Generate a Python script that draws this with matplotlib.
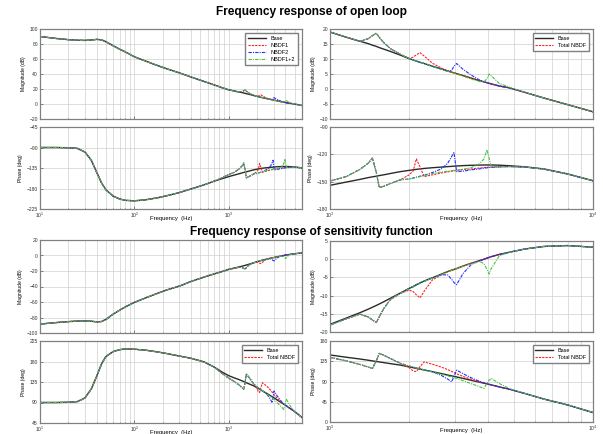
import numpy as np
import matplotlib.pyplot as plt
from matplotlib.ticker import NullFormatter

plt.rcParams['font.family'] = ['Liberation Sans', 'DejaVu Sans']

# frequency grid (Hz): shared low part, detailed high part
f_low = [10, 15, 20, 25, 30, 35, 40, 45, 50, 60, 70, 80, 100, 130, 170, 220, 300, 400, 550, 700]
f_high = [850, 1000, 1150, 1300, 1400, 1450, 1500, 1540, 1600, 1700, 1850, 2000, 2070, 2130,
          2200, 2280, 2450, 2650, 2800, 2900, 2960, 3030, 3200, 3450, 3700, 3850, 3950, 4030,
          4100, 4400, 4800, 5500, 6500, 8000, 10000]

# open loop magnitude (dB)
ol_mag_low = [90, 87.3, 85.8, 85, 84.8, 85.3, 86.2, 85.5, 83, 77.5, 73, 69.5, 63, 57.5, 52, 47,
              41.5, 36, 30, 25.5]
ol_mag_base = [21.8, 19.0, 17.3, 15.9, 15.1, 14.6, 14.2, 13.8, 13.3, 12.5, 11.3, 10.1, 9.7, 9.3,
               8.9, 8.5, 7.6, 6.7, 6.0, 5.6, 5.4, 5.1, 4.5, 3.6, 2.8, 2.4, 2.1, 1.9, 1.7, 1.0,
               0.4, -1.1, -3.0, -5.2, -7.6]
ol_mag_common = [21.8, 19.0, 17.3, 15.9, 16.8, 17.8, 18.6, 17.2, 15.5, 13.4, 11.6]
ol_mag_red = [10.2, 10.6, 11.4, 12.1, 11.0, 8.6, 7.0, 6.1, 5.6, 5.4, 5.1, 4.5, 3.6, 2.8, 2.4,
              2.1, 1.9, 1.7, 1.0, 0.4, -1.1, -3.0, -5.2, -7.6]
ol_mag_blue = [10.1, 9.7, 9.3, 8.9, 8.5, 7.5, 6.6, 5.9, 6.2, 7.6, 8.5, 6.6, 4.6, 3.0, 2.4,
               2.1, 1.9, 1.7, 1.0, 0.4, -1.1, -3.0, -5.2, -7.6]
ol_mag_green = [10.1, 9.7, 9.3, 8.9, 8.5, 7.5, 6.6, 5.9, 5.5, 5.3, 5.0, 4.3, 3.3, 2.5, 2.4,
                3.4, 5.0, 4.4, 1.9, 0.6, -1.1, -3.0, -5.2, -7.6]

# open loop phase (deg)
ol_ph_low = [-90, -90, -90.5, -92, -100, -118, -145, -168, -183, -197, -203, -206, -207, -205,
             -201, -196, -189, -181, -172, -164]
ol_ph_base = [-158.5, -154, -150.5, -147.5, -145.5, -144.7, -144, -143.3, -142.5, -141, -139,
              -137.6, -137, -136.5, -136, -135.5, -134.7, -134, -133.5, -133.2, -133, -132.8,
              -132.4, -132, -131.8, -131.7, -131.7, -131.7, -131.7, -131.9, -132.5, -133.7,
              -136, -141.5, -149]
ol_ph_common = [-156.5, -149.3, -144.5, -136.5, -129.5, -124, -140, -156.5, -155, -152, -148]
ol_ph_red = [-142.5, -138.5, -125, -134, -144.5, -142.5, -140.5, -139.3, -138.6, -138.2,
             -137.6, -136.8, -136, -135, -134.5, -134.2, -134, -134, -133.7, -133.5, -134,
             -136.2, -141.6, -149]
ol_ph_blue = [-147, -146, -145, -144, -143, -140, -136, -130, -122.5, -118, -139, -138.5,
              -137, -136, -135.2, -134.8, -134.5, -134.3, -133.8, -133.4, -134, -136.2,
              -141.6, -149]
ol_ph_green = [-147.3, -146.3, -145.5, -144.5, -143.5, -141, -139.5, -138.5, -138, -137.7,
               -137.3, -136.5, -134.5, -130.5, -125, -115, -124.5, -133.5, -133.6, -133.4,
               -134, -136.2, -141.6, -149]

# sensitivity magnitude (dB)
s_mag_low = [-88.5, -86.5, -85.3, -84.6, -84.4, -84.8, -85.6, -85.2, -82.5, -75.5, -70.5,
             -66.5, -60.5, -55, -49.5, -44.5, -39.5, -33.5, -27.8, -23.8]
s_mag_base = [-20.7, -17.9, -16.2, -14.7, -13.7, -13.2, -12.7, -12.3, -11.7, -10.7, -9.3, -8.0,
              -7.5, -7.0, -6.5, -6.0, -5.1, -4.1, -3.4, -3.0, -2.8, -2.55, -1.9, -1.1, -0.4,
              0.0, 0.3, 0.5, 0.7, 1.3, 1.9, 2.8, 3.5, 3.75, 3.3]
s_mag_common = [-20.9, -18.1, -16.4, -15.1, -15.9, -16.7, -17.4, -15.8, -13.6, -11.0, -9.4]
s_mag_red = [-8.5, -8.9, -9.8, -10.6, -8.8, -5.7, -4.3, -3.5, -3.05, -2.85, -2.6, -1.9, -1.1,
             -0.4, 0.0, 0.3, 0.5, 0.7, 1.3, 1.9, 2.8, 3.5, 3.75, 3.3]
s_mag_blue = [-8.1, -7.6, -7.1, -6.6, -6.1, -5.2, -4.3, -4.3, -5.5, -6.4, -7.0, -4.0, -1.4,
              -0.5, 0.0, 0.3, 0.5, 0.7, 1.3, 1.9, 2.8, 3.5, 3.75, 3.3]
s_mag_green = [-8.1, -7.6, -7.1, -6.6, -6.1, -5.2, -4.2, -3.5, -3.1, -2.9, -2.65, -2.0, -1.2,
               -0.6, -1.2, -2.8, -4.1, -2.6, 0.9, 1.9, 2.8, 3.5, 3.75, 3.3]

# sensitivity phase (deg)
s_ph_low = [90, 90, 90.5, 92, 100, 120, 148, 175, 191, 202, 206, 207.5, 207, 205, 201.5, 197.5,
            192, 187, 179, 168]
s_ph_base = [157, 149, 144, 140, 137.2, 135.8, 134.5, 133.5, 132, 129.6, 126.5, 122.5, 120.7,
             119.2, 117.5, 115.6, 111.8, 107.6, 104.5, 102.5, 101.4, 100.2, 97, 92.5, 88.5,
             86.2, 84.7, 83.5, 82.4, 78, 73, 63.5, 51, 38, 21]
s_ph_common = [154, 143.6, 136, 128, 122, 119, 136, 152.5, 148.5, 141, 130.5]
s_ph_red = [120.5, 113.5, 112, 123, 133.5, 128.5, 122, 116.5, 112.5, 110, 107, 101.5, 94.5,
            89.3, 86.7, 85, 83.7, 82.5, 78, 73, 63.5, 51, 38, 21]
s_ph_blue = [124.5, 122, 120, 118, 116, 111.6, 103.5, 95.5, 89.3, 101, 115.3, 107.5, 98, 90.5,
             87, 85.3, 83.8, 82.6, 78, 73, 63.5, 51, 38, 21]
s_ph_green = [124.5, 122, 120, 118, 116, 111, 106, 102.5, 100, 98.5, 97, 92, 85, 78.5, 74.5,
              86, 93, 97, 85.5, 74.5, 63.5, 51, 38, 21]

freq = np.concatenate([f_low, f_high])


def build(low, base, common, red, blue, green):
    b = np.concatenate([low, base])
    r = np.concatenate([low, common, red])
    bl = np.concatenate([low, common, blue])
    g = np.concatenate([low, common, green])
    return b, r, bl, g


ol_mag = build(ol_mag_low, ol_mag_base, ol_mag_common, ol_mag_red, ol_mag_blue, ol_mag_green)
ol_ph = build(ol_ph_low, ol_ph_base, ol_ph_common, ol_ph_red, ol_ph_blue, ol_ph_green)
s_mag = build(s_mag_low, s_mag_base, s_mag_common, s_mag_red, s_mag_blue, s_mag_green)
s_ph = build(s_ph_low, s_ph_base, s_ph_common, s_ph_red, s_ph_blue, s_ph_green)

W, H = 603, 434
fig = plt.figure(figsize=(W / 100, H / 100), dpi=100)


def make_ax(x0, x1, y0, y1):
    return fig.add_axes([x0 / W, 1 - y1 / H, (x1 - x0) / W, (y1 - y0) / H])


styles = [
    dict(color='#2a2a2a', lw=1.0, ls='-'),
    dict(color='#ff2020', lw=0.8, ls=(0, (2, 1))),
    dict(color='#2030ff', lw=0.8, ls=(0, (3, 1, 1, 1))),
    dict(color='#44c444', lw=0.8, ls=(0, (3, 1, 1, 1))),
]


def panel(ax, data, xlim, ylim, yticks, ylabel, xlabels):
    lines = []
    for s, y in zip(styles, data):
        ln, = ax.semilogx(freq, y, **s)
        lines.append(ln)
    ax.set_xlim(xlim)
    ax.set_ylim(ylim)
    ax.set_yticks(yticks)
    ax.grid(True, which='major', color='#d0d0d0', lw=0.5)
    ax.grid(True, which='minor', axis='x', color='#d0d0d0', lw=0.5)
    ax.tick_params(which='both', direction='in', labelsize=3.6, length=2, width=0.4,
                   pad=1.5, colors='#333333')
    ax.tick_params(which='minor', length=1)
    for sp in ax.spines.values():
        sp.set_color('#808080')
        sp.set_linewidth(0.9)
    ax.set_ylabel(ylabel, fontsize=3.6, labelpad=2.5)
    if xlabels:
        ax.set_xlabel('Frequency  (Hz)', fontsize=4.2)
        ax.xaxis.set_label_coords(0.5, -0.11)
        ax.xaxis.label.set_va('center')
    else:
        ax.xaxis.set_major_formatter(NullFormatter())
    ax.xaxis.set_minor_formatter(NullFormatter())
    return lines


def legend(ax, lines, labels):
    ax.legend(lines, labels, loc='upper right', fontsize=4, handlelength=3.2,
              fancybox=False, edgecolor='#808080', framealpha=1, borderpad=0.5,
              labelspacing=0.35, borderaxespad=0.8)


L0, L1 = 40, 302
R0, R1 = 330, 593

ax = make_ax(L0, L1, 29, 119)
ls = panel(ax, ol_mag, (10, 6000), (-20, 100), range(-20, 101, 20), 'Magnitude (dB)', False)
legend(ax, ls, ['Base', 'NBDF1', 'NBDF2', 'NBDF1+2'])

ax = make_ax(L0, L1, 127, 209)
panel(ax, ol_ph, (10, 6000), (-225, -45), range(-225, -44, 45), 'Phase (deg)', True)

ax = make_ax(R0, R1, 29, 119)
ls = panel(ax, ol_mag, (1000, 10000), (-10, 20), range(-10, 21, 5), 'Magnitude (dB)', False)
legend(ax, ls[:2], ['Base', 'Total NBDF'])

ax = make_ax(R0, R1, 127, 209)
panel(ax, ol_ph, (1000, 10000), (-180, -90), range(-180, -89, 30), 'Phase (deg)', True)

ax = make_ax(L0, L1, 240, 333)
panel(ax, s_mag, (10, 6000), (-100, 20), range(-100, 21, 20), 'Magnitude (dB)', False)

ax = make_ax(L0, L1, 341, 423)
ls = panel(ax, s_ph, (10, 6000), (45, 225), range(45, 226, 45), 'Phase (deg)', True)
legend(ax, ls[:2], ['Base', 'Total NBDF'])

ax = make_ax(R0, R1, 241, 332)
panel(ax, s_mag, (1000, 10000), (-20, 5), range(-20, 6, 5), 'Magnitude (dB)', False)

ax = make_ax(R0, R1, 341, 422)
ls = panel(ax, s_ph, (1000, 10000), (0, 180), range(0, 181, 45), 'Phase (deg)', True)
legend(ax, ls[:2], ['Base', 'Total NBDF'])

fig.text(311 / W, 1 - 12 / H, 'Frequency response of open loop', ha='center', va='center',
         fontsize=8.6, fontweight='bold')
fig.text(311 / W, 1 - 232 / H, 'Frequency response of sensitivity function', ha='center',
         va='center', fontsize=8.6, fontweight='bold')

fig.savefig('out.png', dpi=100)
